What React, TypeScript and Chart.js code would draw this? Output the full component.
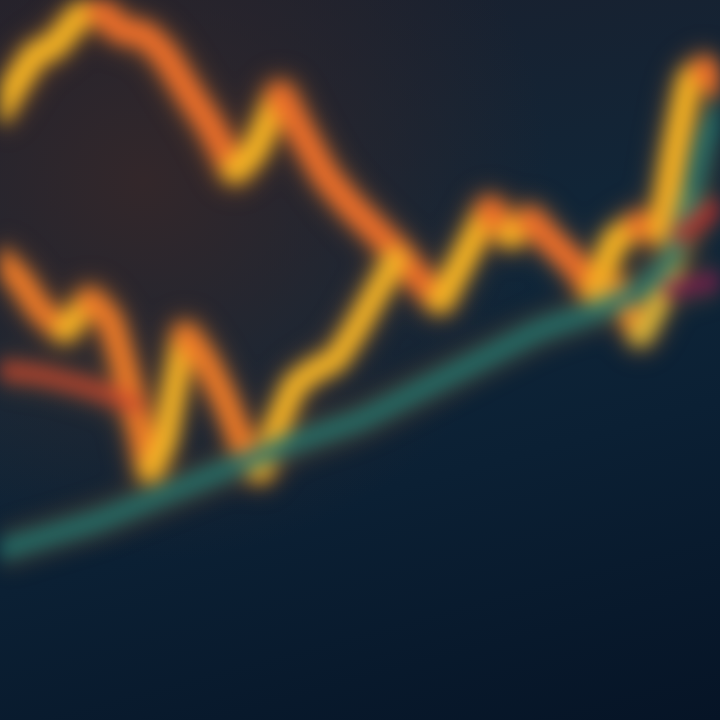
import React, { useEffect, useRef } from "react";
import { Chart, registerables } from "chart.js";

Chart.register(...registerables);

// y values are measured downward (y axis reversed)
// Upper zig-zag
const upperX = [0, 15, 35, 55, 80, 100, 120, 145, 165, 190, 210, 235, 255, 280, 300, 325, 350, 375, 400, 420, 440, 460, 490, 510, 530, 550, 575, 595, 615, 640, 660, 675, 690, 705, 720];
const upperY = [110, 85, 55, 45, 15, 10, 30, 35, 55, 95, 125, 170, 150, 95, 130, 175, 205, 230, 255, 280, 300, 265, 210, 235, 220, 240, 265, 290, 240, 225, 230, 150, 80, 70, 85];

// Lower zig-zag
const lowerX = [0, 20, 40, 65, 90, 110, 125, 140, 150, 165, 185, 205, 225, 245, 260, 275, 295, 315, 335, 355, 375, 395];
const lowerY = [260, 280, 310, 330, 300, 320, 370, 430, 470, 440, 335, 360, 400, 450, 470, 430, 385, 370, 360, 330, 295, 260];

// Right dip
const dipX = [600, 620, 640, 655, 670, 685];
const dipY = [300, 290, 335, 310, 270, 200];

// Teal rising line
const tealX = [0, 50, 100, 150, 200, 250, 300, 360, 420, 480, 540, 600, 640, 670, 690, 705, 720];
const tealY = [550, 535, 520, 500, 480, 460, 440, 420, 390, 360, 330, 310, 290, 260, 200, 140, 110];

// Red faint line (left)
const redX = [0, 40, 80, 110, 135];
const redY = [370, 375, 385, 395, 405];

// Red (right)
const red2X = [680, 700, 720];
const red2Y = [235, 220, 205];

// Magenta (right)
const magX = [670, 695, 720];
const magY = [290, 285, 280];

const pts = (xs: number[], ys: number[]) => xs.map((x, i) => ({ x, y: ys[i] }));

export default function App() {
  const ref = useRef<HTMLCanvasElement>(null);
  useEffect(() => {
    document.body.style.margin = "0";
    document.body.style.background = "#0b1a2c";
    const cv = ref.current!;
    const glow = {
      id: "glow",
      beforeDatasetsDraw(chart: any) {
        chart.ctx.save();
        chart.ctx.shadowColor = "rgba(255,140,40,0.5)";
        chart.ctx.shadowBlur = 22;
      },
      afterDatasetsDraw(chart: any) {
        chart.ctx.restore();
      },
    };
    const line = (data: any, color: any, width: number, extra: any = {}) => ({
      data,
      borderColor: color,
      borderWidth: width,
      pointRadius: 0,
      showLine: true,
      tension: 0.1,
      borderJoinStyle: "round" as const,
      borderCapStyle: "round" as const,
      ...extra,
    });
    const zig = (down: string, up: string) => ({
      segment: {
        borderColor: (c: any) => (c.p1.parsed.y > c.p0.parsed.y ? down : up),
      },
    });
    const chart = new Chart(cv, {
      type: "scatter",
      data: {
        datasets: [
          line(pts(redX, redY), "rgba(205,70,45,0.75)", 18),
          line(pts(red2X, red2Y), "rgba(190,40,45,0.8)", 16),
          line(pts(magX, magY), "rgba(120,25,80,0.85)", 16),
          line(pts(tealX, tealY), "rgba(28,115,110,0.85)", 20),
          line(pts(lowerX, lowerY), "#ee8a25", 24, zig("#ec7a28", "#f2b226")),
          line(pts(dipX, dipY), "#f0a02a", 22, zig("#ee8a2a", "#d6b43a")),
          line(pts(upperX, upperY), "#f08a22", 26, zig("#ea6e2a", "#f3b224")),
        ],
      },
      options: {
        animation: false,
        responsive: false,
        layout: { padding: 0 },
        plugins: { legend: { display: false }, tooltip: { enabled: false } },
        scales: {
          x: { type: "linear", min: 0, max: 720, display: false },
          y: { type: "linear", min: 0, max: 720, reverse: true, display: false },
        },
      },
      plugins: [glow],
    });
    return () => chart.destroy();
  }, []);
  return (
    <div
      style={{
        width: 720,
        height: 720,
        position: "relative",
        overflow: "hidden",
        background:
          "radial-gradient(ellipse at 20% 25%, #33272a 0%, rgba(30,30,40,0) 50%), linear-gradient(165deg, #1c1f2c 0%, #0f2639 45%, #0b2034 65%, #061426 100%)",
      }}
    >
      <canvas
        ref={ref}
        width={720}
        height={720}
        style={{ display: "block", filter: "blur(9px)" }}
      />
    </div>
  );
}
